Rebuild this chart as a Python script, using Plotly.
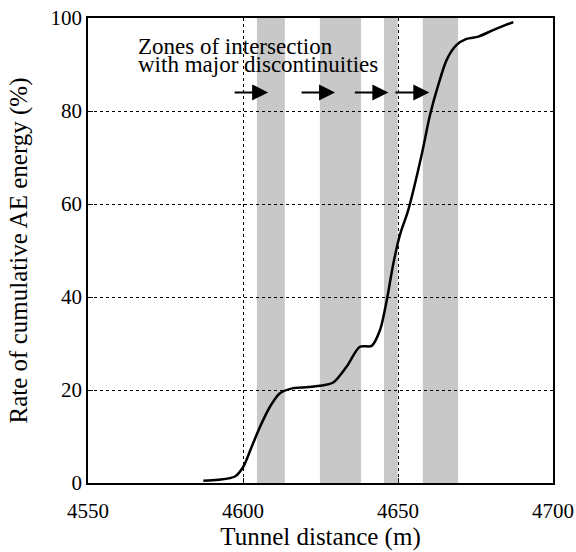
import plotly.graph_objects as go

# Cumulative AE energy curve
distance = [4587.2, 4592.0, 4597.4, 4600.1, 4602.8, 4605.5, 4608.7, 4611.9, 4616.2, 4620.5,
            4624.8, 4629.1, 4633.4, 4637.7, 4641.5, 4644.2, 4646.4, 4648.5, 4650.6, 4653.3,
            4657.6, 4660.3, 4663.0, 4665.7, 4668.9, 4672.1, 4675.9, 4680.7, 4684.0, 4687.2]
energy = [0.5, 0.7, 1.4, 3.5, 7.8, 12.1, 16.4, 19.3, 20.4, 20.6,
          20.9, 21.6, 25.0, 29.3, 29.5, 32.9, 39.4, 47.2, 53.3, 58.7,
          70.5, 79.1, 85.6, 91.0, 94.2, 95.5, 96.0, 97.4, 98.3, 99.1]

# Zones of intersection with major discontinuities
zone_starts = [4604.5, 4624.8, 4645.5, 4658.0]
zone_ends = [4613.5, 4638.1, 4649.9, 4669.4]

# Arrows
arrow_tails = [4596.8, 4618.4, 4635.6, 4648.7]
arrow_heads = [4608.1, 4629.7, 4646.9, 4660.1]
arrow_y = 84

note_lines = ["Zones of intersection", "with major discontinuities"]
note_y = [93.9, 90.0]
note_x = 4565.5

x_ticks = [4550, 4600, 4650, 4700]
y_ticks = [0, 20, 40, 60, 80, 100]

FONT = "Liberation Serif, Times New Roman, serif"

fig = go.Figure()
fig.add_trace(go.Scatter(x=distance, y=energy, mode="lines",
                         line=dict(color="black", width=2.5, shape="spline", smoothing=0.8),
                         showlegend=False, hoverinfo="skip"))

shapes = []
for s, e in zip(zone_starts, zone_ends):
    shapes.append(dict(type="rect", xref="x", yref="paper", x0=s, x1=e, y0=0, y1=1,
                       fillcolor="#c8c8c8", line=dict(width=0), layer="below"))

annotations = []
for t, h in zip(arrow_tails, arrow_heads):
    annotations.append(dict(x=h, y=arrow_y, ax=t, ay=arrow_y, xref="x", yref="y",
                            axref="x", ayref="y", text="", showarrow=True,
                            arrowhead=2, arrowsize=1.6, arrowwidth=2, arrowcolor="black"))
for txt, yy in zip(note_lines, note_y):
    annotations.append(dict(x=note_x, y=yy, xref="x", yref="y", xanchor="left", yanchor="middle",
                            text=txt, showarrow=False,
                            font=dict(family=FONT, size=23, color="black")))

fig.update_layout(
    width=576, height=552,
    margin=dict(l=88, r=23, t=18, b=69),
    paper_bgcolor="white", plot_bgcolor="white",
    font=dict(family=FONT, size=21, color="black"),
    shapes=shapes, annotations=annotations,
    showlegend=False,
)
fig.update_xaxes(range=[4550, 4700], tickvals=x_ticks, ticks="inside", ticklen=5,
                 tickcolor="black", showline=True, linecolor="black", linewidth=1.5, mirror=True,
                 showgrid=True, gridcolor="black", griddash="dot", gridwidth=1,
                 zeroline=False, tickfont=dict(family=FONT, size=21), ticklabelstandoff=8,
                 automargin=False,
                 title=dict(text="Tunnel distance (m)", font=dict(family=FONT, size=25), standoff=4))
fig.update_yaxes(range=[0, 100], tickvals=y_ticks, ticks="inside", ticklen=5,
                 tickcolor="black", showline=True, linecolor="black", linewidth=1.5, mirror=True,
                 showgrid=True, gridcolor="black", griddash="dot", gridwidth=1,
                 zeroline=False, tickfont=dict(family=FONT, size=21), automargin=False,
                 title=dict(text="Rate of cumulative AE energy (%)", font=dict(family=FONT, size=25),
                            standoff=16))

fig.write_html("out.html")
